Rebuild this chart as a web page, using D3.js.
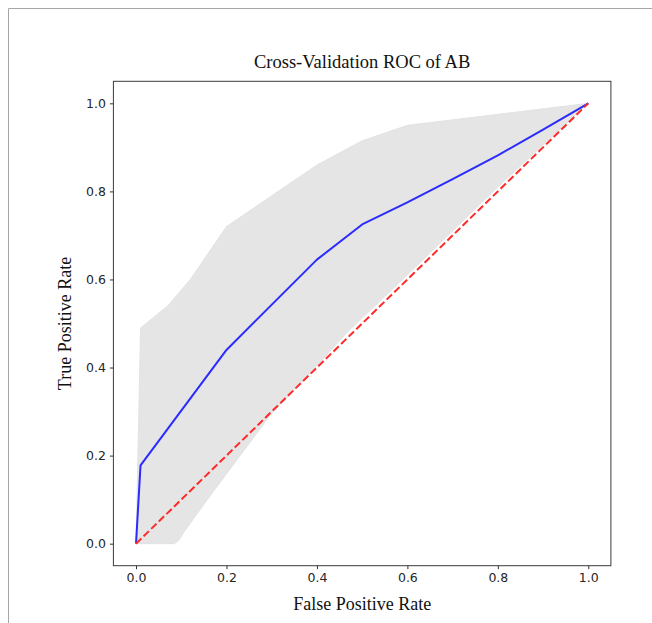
<!DOCTYPE html>
<html>
<head>
<meta charset="utf-8">
<script src="https://cdn.jsdelivr.net/npm/d3@7"></script>
<style>
    html, body { margin: 0; padding: 0; background: white; }
    svg { display: block; }
</style>
</head>
<body>
<div id="chart"></div>
<script>
// mean ROC curve (blue)
const meanFpr = [0, 0.01, 0.2, 0.4, 0.5, 0.6, 0.7, 0.8, 0.9, 1.0];
const meanTpr = [0, 0.178, 0.44, 0.645, 0.725, 0.775, 0.828, 0.882, 0.94, 1.0];

// +/- 1 std band, upper edge
const upperFpr = [0, 0.01, 0.07, 0.12, 0.2, 0.3, 0.4, 0.5, 0.6, 0.8, 1.0];
const upperTpr = [0, 0.49, 0.54, 0.60, 0.72, 0.79, 0.86, 0.915, 0.95, 0.975, 1.0];

// lower edge
const lowerFpr = [0, 0.085, 0.095, 0.105, 0.157, 0.297, 0.385, 0.467, 0.6, 0.8, 1.0];
const lowerTpr = [0, 0, 0.008, 0.025, 0.099, 0.292, 0.387, 0.48, 0.61, 0.81, 1.0];

// chance line
const chanceFpr = [0, 1];
const chanceTpr = [0, 1];

const xTicks = [0, 0.2, 0.4, 0.6, 0.8, 1.0];
const yTicks = [0, 0.2, 0.4, 0.6, 0.8, 1.0];

const title = "Cross-Validation ROC of AB";
const xLabel = "False Positive Rate";
const yLabel = "True Positive Rate";

const width = 652;
const height = 623;
const margin = { top: 81.3, right: 41.1, bottom: 57.3, left: 113.4 };

const svg = d3.select("#chart")
    .append("svg")
    .attr("width", width)
    .attr("height", height);

// outer frame (only top and left edges visible in the picture)
svg.append("path")
    .attr("d", `M8.5,${height} V8.5 H${width}`)
    .attr("fill", "none")
    .attr("stroke", "#a6a6a6")
    .attr("stroke-width", 1);

const x = d3.scaleLinear()
    .domain([-0.05, 1.05])
    .range([margin.left, width - margin.right]);

const y = d3.scaleLinear()
    .domain([-0.05, 1.05])
    .range([height - margin.bottom, margin.top]);

const zip = (xs, ys) => xs.map((v, i) => [v, ys[i]]);

const line = d3.line()
    .x(d => x(d[0]))
    .y(d => y(d[1]));

// std band: upper edge then lower edge backwards
const band = zip(upperFpr, upperTpr).concat(zip(lowerFpr, lowerTpr).reverse());
svg.append("path")
    .attr("d", line(band) + "Z")
    .attr("fill", "#e5e5e5")
    .attr("stroke", "#e0e0e0")
    .attr("stroke-width", 0.8);

svg.append("path")
    .attr("d", line(zip(meanFpr, meanTpr)))
    .attr("fill", "none")
    .attr("stroke", "#2b2bff")
    .attr("stroke-width", 2)
    .attr("stroke-linejoin", "round");

svg.append("path")
    .attr("d", line(zip(chanceFpr, chanceTpr)))
    .attr("fill", "none")
    .attr("stroke", "#ff2a2a")
    .attr("stroke-width", 2)
    .attr("stroke-dasharray", "7.4,3.2");

// axes
const xAxis = svg.append("g")
    .attr("transform", `translate(0,${height - margin.bottom})`)
    .call(d3.axisBottom(x).tickValues(xTicks).tickFormat(d3.format(".1f")).tickSize(3.5).tickPadding(4));

const yAxis = svg.append("g")
    .attr("transform", `translate(${margin.left},0)`)
    .call(d3.axisLeft(y).tickValues(yTicks).tickFormat(d3.format(".1f")).tickSize(3.5).tickPadding(4));

[xAxis, yAxis].forEach(g => {
    g.select(".domain").remove();
    g.selectAll("line").attr("stroke", "#333");
    g.selectAll("text")
        .attr("fill", "#262626")
        .style("font-family", "'DejaVu Sans', sans-serif")
        .style("font-size", "12.5px");
});

// spines
svg.append("rect")
    .attr("x", margin.left)
    .attr("y", margin.top)
    .attr("width", width - margin.left - margin.right)
    .attr("height", height - margin.top - margin.bottom)
    .attr("fill", "none")
    .attr("stroke", "#3a3a3a")
    .attr("stroke-width", 1);

// texts
const serif = "'Liberation Serif', 'Times New Roman', serif";

svg.append("text")
    .attr("x", (margin.left + width - margin.right) / 2)
    .attr("y", 68.3)
    .attr("text-anchor", "middle")
    .style("font-family", serif)
    .style("font-size", "18.5px")
    .attr("fill", "#111")
    .text(title);

svg.append("text")
    .attr("x", (margin.left + width - margin.right) / 2)
    .attr("y", 610)
    .attr("text-anchor", "middle")
    .style("font-family", serif)
    .style("font-size", "18px")
    .attr("fill", "#111")
    .text(xLabel);

svg.append("text")
    .attr("transform", `translate(71,${(margin.top + height - margin.bottom) / 2}) rotate(-90)`)
    .attr("text-anchor", "middle")
    .style("font-family", serif)
    .style("font-size", "18px")
    .attr("fill", "#111")
    .text(yLabel);
</script>
</body>
</html>
